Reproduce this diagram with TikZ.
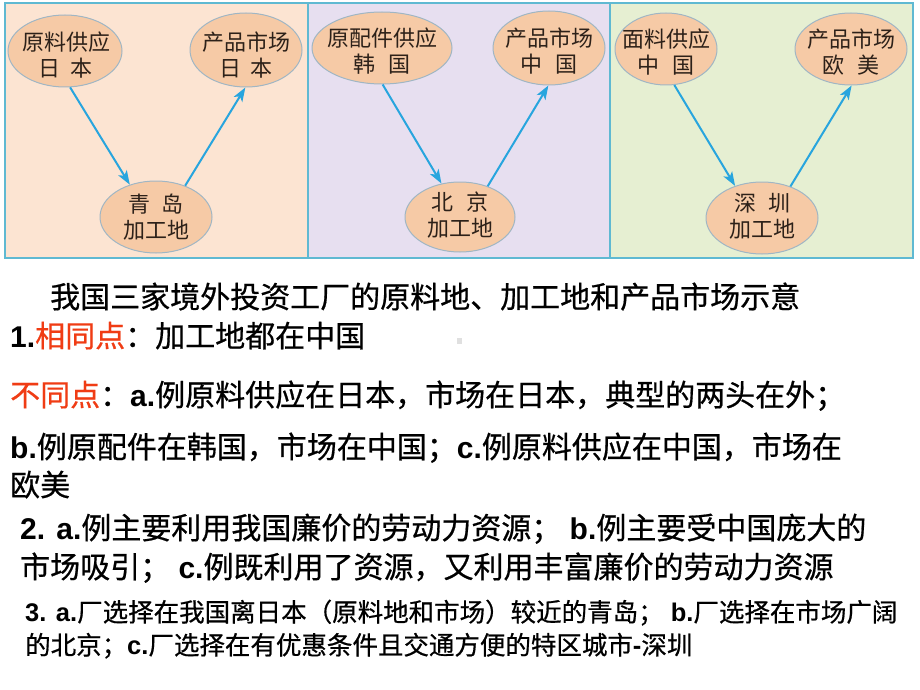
\documentclass[tikz,border=0pt]{standalone}
\usepackage{fontspec}
\newfontfamily\cjk{Noto Sans CJK SC}
\newfontfamily\cjkb[FakeBold=0.6]{Noto Sans CJK SC}
\newfontfamily\lat{Liberation Sans}
\usetikzlibrary{arrows.meta,shapes.geometric}
\definecolor{panelA}{RGB}{252,228,210}
\definecolor{panelB}{RGB}{231,223,240}
\definecolor{panelC}{RGB}{230,239,210}
\definecolor{frameC}{RGB}{95,185,210}
\definecolor{ellFill}{RGB}{246,202,166}
\definecolor{ellLine}{RGB}{160,182,196}
\definecolor{arrowC}{RGB}{40,165,222}
\definecolor{ellText}{RGB}{45,33,25}
\definecolor{hl}{RGB}{240,60,20}
\newcommand{\bl}[1]{{\lat\bfseries #1}}
\begin{document}
\begin{tikzpicture}[x=1pt,y=-1pt,
  frame/.style={draw=frameC,line width=1.4pt},
  place/.style={ellipse,draw=ellLine,fill=ellFill,line width=1pt,inner sep=0pt},
  lbl/.style={font=\cjk\fontsize{22}{26}\selectfont,text=ellText,align=center,inner sep=0pt},
  flow/.style={draw=arrowC,line width=2pt,-{Stealth[length=14pt,width=10pt,inset=3.5pt]}},
  body/.style={anchor=base west,inner sep=0pt,font=\cjkb\fontsize{30}{36}\selectfont},
  small/.style={anchor=base west,inner sep=0pt,font=\cjkb\fontsize{25.5}{30}\selectfont}]
\useasboundingbox (0,0) rectangle (920,690);
\fill[white] (0,0) rectangle (920,690);
% panels
\fill[panelA] (5,3) rectangle (308,258);
\fill[panelB] (308,3) rectangle (610,258);
\fill[panelC] (610,3) rectangle (913,258);
\draw[frame] (5,3) rectangle (308,258);
\draw[frame] (308,3) rectangle (610,258);
\draw[frame] (610,3) rectangle (913,258);
% panel 1
\node[place,minimum width=114pt,minimum height=72pt] (a1) at (65,51) {};
\node[place,minimum width=112pt,minimum height=74pt] (b1) at (246,50) {};
\node[place,minimum width=112pt,minimum height=72pt] (c1) at (156,217) {};
\node[lbl] (a1t) at (66,55) {原料供应\\日\hspace{10pt}本};
\node[lbl] (b1t) at (246,55) {产品市场\\日\hspace{10pt}本};
\node[lbl] (c1t) at (156,217.5) {青\hspace{12pt}岛\\加工地};
\draw[flow] (a1.-82) -- (c1.129);
\draw[flow] (c1.47) -- (b1.-91);
% panel 2
\node[place,minimum width=140pt,minimum height=72pt] (a2) at (382,48) {};
\node[place,minimum width=112pt,minimum height=74pt] (b2) at (549,48) {};
\node[place,minimum width=110pt,minimum height=70pt] (c2) at (460,217) {};
\node[lbl] (a2t) at (382,51.5) {原配件供应\\韩\hspace{13pt}国};
\node[lbl] (b2t) at (549,51) {产品市场\\中\hspace{13pt}国};
\node[lbl] (c2t) at (460,215) {北\hspace{13pt}京\\加工地};
\draw[flow] (a2.-89) -- (c2.119);
\draw[flow] (c2.48) -- (b2.-91);
% panel 3
\node[place,minimum width=102pt,minimum height=72pt] (a3) at (666,49) {};
\node[place,minimum width=112pt,minimum height=72pt] (b3) at (851,49) {};
\node[place,minimum width=112pt,minimum height=72pt] (c3) at (762,218) {};
\node[lbl] (a3t) at (666,52.5) {面料供应\\中\hspace{13pt}国};
\node[lbl] (b3t) at (851,52.5) {产品市场\\欧\hspace{13pt}美};
\node[lbl] (c3t) at (762,216.5) {深\hspace{12pt}圳\\加工地};
\draw[flow] (a3.-77) -- (c3.130);
\draw[flow] (c3.48) -- (b3.-89);
% small grey mark
\fill[black!12] (457,338) rectangle (462,344);
% text
\node[body] (t0) at (50,308) {我国三家境外投资工厂的原料地、加工地和产品市场示意};
\node[body] (t1) at (10,347) {\bl{1.}\textcolor{hl}{相同点}：加工地都在中国};
\node[body] (t2) at (10,406) {\textcolor{hl}{不同点}：\bl{a.}例原料供应在日本，市场在日本，典型的两头在外；};
\node[body] (t3) at (10,458) {\bl{b.}例原配件在韩国，市场在中国；\bl{c.}例原料供应在中国，市场在};
\node[body] (t4) at (10,496) {欧美};
\node[body] (t5) at (20,539) {\bl{2. a.}例主要利用我国廉价的劳动力资源；\bl{ b.}例主要受中国庞大的};
\node[body] (t6) at (20,578) {市场吸引；\bl{ c.}例既利用了资源，又利用丰富廉价的劳动力资源};
\node[small] (t7) at (25,621.5) {\bl{3. a.}厂选择在我国离日本（原料地和市场）较近的青岛；\bl{ b.}厂选择在市场广阔};
\node[small] (t8) at (25,654.5) {的北京；\bl{c.}厂选择在有优惠条件且交通方便的特区城市\bl{-}深圳};
\end{tikzpicture}
\end{document}
